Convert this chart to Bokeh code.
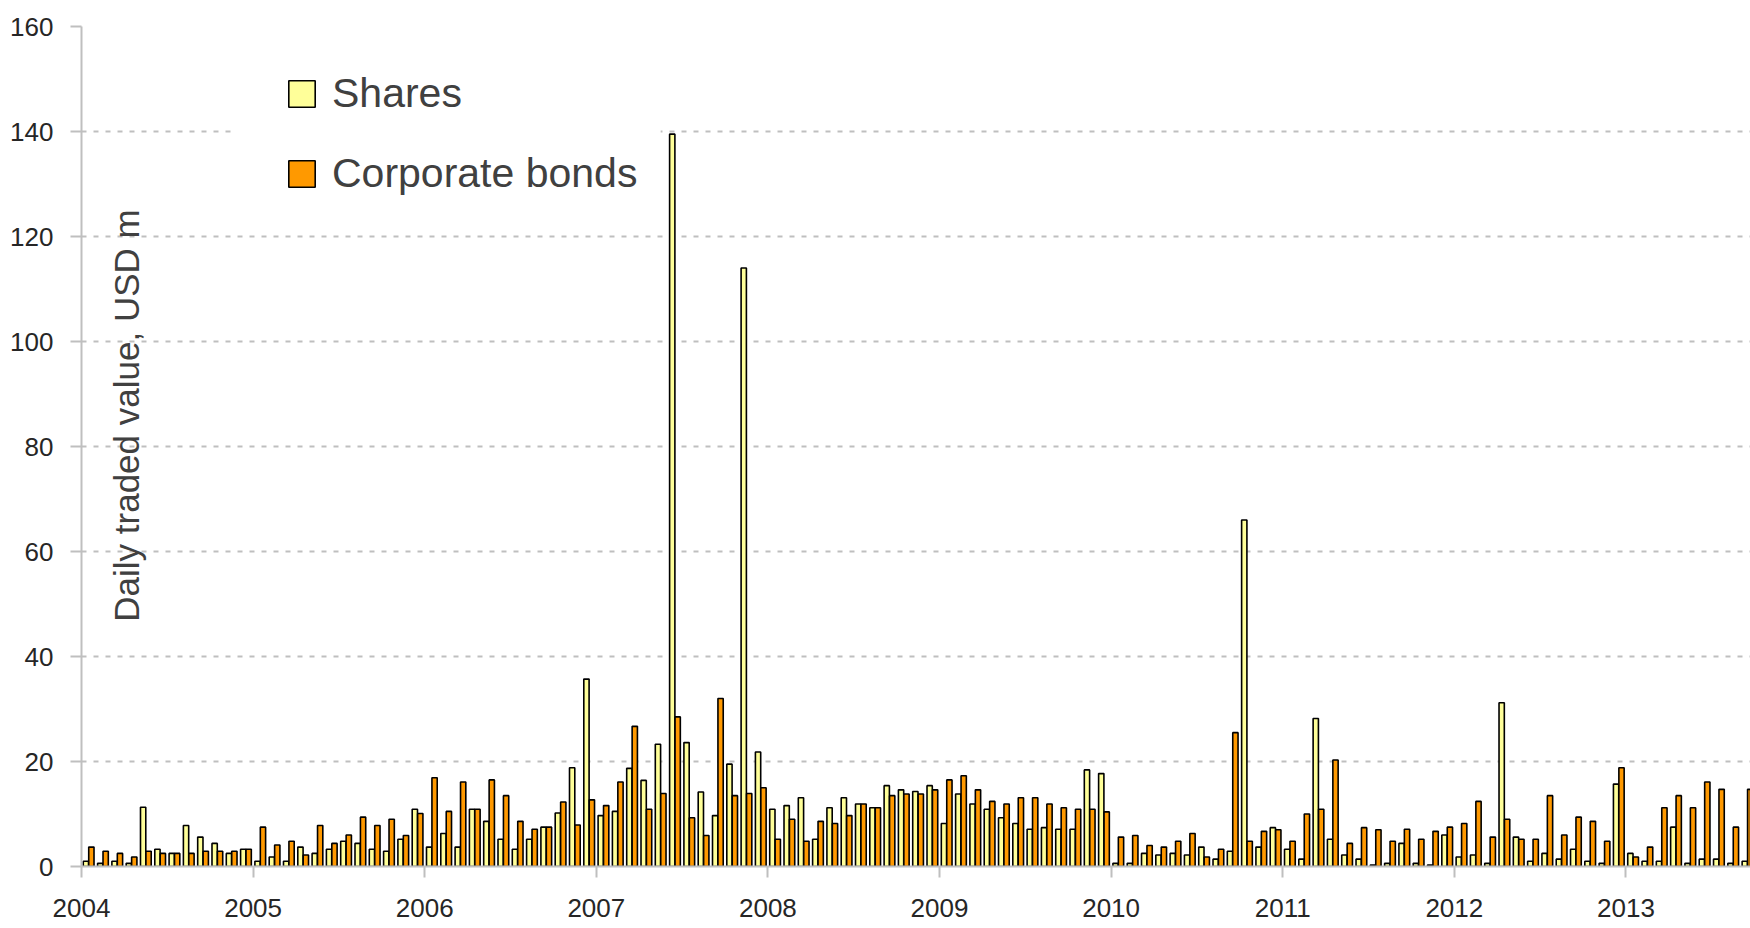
import numpy as np
from math import pi
from bokeh.plotting import figure
from bokeh.models import (ColumnDataSource, Range1d, FixedTicker, Legend,
                          LegendItem, Label, BoxAnnotation)
from bokeh.transform import dodge
from bokeh.embed import file_html
from bokeh.resources import INLINE

# ---- data (monthly, Jan 2004 - Sep 2013), daily traded value, USD m ----
years = ["2004", "2005", "2006", "2007", "2008", "2009", "2010", "2011", "2012", "2013"]

shares = [
    1.0, 0.6, 1.0, 0.6, 11.3, 3.3, 2.5, 7.8, 5.6, 4.4, 2.5, 3.3,          # 2004
    1.0, 1.8, 1.0, 3.7, 2.5, 3.3, 4.8, 4.4, 3.3, 2.9, 5.2, 10.9,          # 2005
    3.7, 6.3, 3.7, 10.9, 8.6, 5.2, 3.3, 5.2, 7.5, 10.2, 18.8, 35.7,       # 2006
    9.7, 10.5, 18.7, 16.4, 23.3, 139.5, 23.6, 14.2, 9.7, 19.5, 114.0, 21.8,  # 2007
    10.9, 11.6, 13.1, 5.2, 11.2, 13.1, 11.9, 11.2, 15.4, 14.6, 14.3, 15.4,   # 2008
    8.2, 13.8, 11.9, 10.9, 9.3, 8.2, 7.1, 7.4, 7.1, 7.1, 18.4, 17.7,      # 2009
    0.6, 0.6, 2.5, 2.2, 2.5, 2.2, 3.7, 1.4, 2.9, 66.0, 3.7, 7.4,          # 2010
    3.3, 1.4, 28.2, 5.2, 2.2, 1.4, 0.3, 0.6, 4.4, 0.6, 0.3, 6.0,          # 2011
    1.8, 2.2, 0.6, 31.2, 5.6, 1.0, 2.5, 1.4, 3.3, 1.0, 0.6, 15.7,         # 2012
    2.5, 1.0, 1.0, 7.5, 0.6, 1.4, 1.4, 0.6, 1.0,                          # 2013
]

bonds = [
    3.7, 2.9, 2.5, 1.8, 2.9, 2.5, 2.5, 2.5, 2.9, 2.9, 2.9, 3.3,           # 2004
    7.5, 4.1, 4.8, 2.2, 7.8, 4.4, 6.0, 9.4, 7.8, 9.0, 5.9, 10.1,          # 2005
    16.9, 10.5, 16.1, 10.9, 16.5, 13.5, 8.6, 7.1, 7.5, 12.3, 7.9, 12.7,   # 2006
    11.6, 16.1, 26.7, 10.9, 13.9, 28.5, 9.3, 5.9, 32.0, 13.5, 13.9, 15.0, # 2007
    5.2, 9.0, 4.8, 8.6, 8.2, 9.7, 11.9, 11.2, 13.5, 13.8, 13.8, 14.6,     # 2008
    16.5, 17.3, 14.6, 12.4, 11.9, 13.1, 13.1, 11.9, 11.2, 10.9, 10.9, 10.4,  # 2009
    5.6, 5.9, 4.0, 3.7, 4.8, 6.3, 1.8, 3.3, 25.5, 4.8, 6.7, 7.0,          # 2010
    4.8, 10.0, 10.9, 20.3, 4.4, 7.4, 7.0, 4.8, 7.1, 5.2, 6.7, 7.5,        # 2011
    8.2, 12.4, 5.6, 9.0, 5.2, 5.2, 13.5, 6.0, 9.4, 8.6, 4.8, 18.8,        # 2012
    1.8, 3.7, 11.2, 13.5, 11.2, 16.1, 14.7, 7.5, 14.7,                    # 2013
]

y_ticks = [0, 20, 40, 60, 80, 100, 120, 140, 160]

FONT = "Liberation Sans"
TXT = "#404040"
TICK_TXT = "#262626"
GRID = "#BFBFBF"

src = ColumnDataSource(dict(m=np.arange(len(shares)) + 0.5, shares=shares, bonds=bonds))

p = figure(width=1750, height=928, output_backend="svg", toolbar_location=None,
           x_range=Range1d(0, 116.71), y_range=Range1d(0, 160),
           min_border_left=81, min_border_right=0, min_border_top=26,
           min_border_bottom=62)
p.outline_line_color = None
p.background_fill_color = "white"

# white area behind the legend (breaks the 140 gridline like the reference)
p.add_layout(BoxAnnotation(left=10.56, right=40.5, bottom=124, top=155,
                           fill_color="white", fill_alpha=1.0, line_color=None,
                           level="underlay"))

r1 = p.vbar(x=dodge("m", -0.19, range=p.x_range), top="shares", width=0.37,
            source=src, fill_color="#FFFF99", line_color="black", line_width=1.6)
r2 = p.vbar(x=dodge("m", 0.19, range=p.x_range), top="bonds", width=0.37,
            source=src, fill_color="#FF9900", line_color="black", line_width=1.6)

# axes
p.xgrid.grid_line_color = None
p.ygrid.ticker = FixedTicker(ticks=y_ticks)
p.ygrid.grid_line_color = GRID
p.ygrid.grid_line_width = 2
p.ygrid.grid_line_dash = "5 7"

p.yaxis.ticker = FixedTicker(ticks=y_ticks)
p.xaxis.ticker = FixedTicker(ticks=[12 * i for i in range(len(years))])
p.xaxis.major_label_overrides = {12 * i: y for i, y in enumerate(years)}

for ax in (p.xaxis[0], p.yaxis[0]):
    ax.axis_line_color = GRID
    ax.axis_line_width = 2
    ax.major_tick_line_color = GRID
    ax.major_tick_line_width = 2
    ax.major_tick_out = 11
    ax.major_tick_in = 0
    ax.minor_tick_line_color = None
    ax.major_label_text_font = FONT
    ax.major_label_text_color = TICK_TXT
    ax.major_label_text_font_size = "26px"

p.yaxis.major_label_standoff = 17
p.xaxis.major_label_standoff = 21

# y title placed inside the plot area
p.add_layout(Label(x=3.18, y=85.9, text="Daily traded value, USD m", angle=pi / 2,
                   text_align="center", text_baseline="middle",
                   text_font=FONT, text_font_size="35px", text_color=TXT))

legend = Legend(items=[LegendItem(label="Shares", renderers=[r1]),
                       LegendItem(label="Corporate bonds", renderers=[r2])],
                location=(204, 669), orientation="vertical",
                glyph_width=33, glyph_height=33, label_standoff=14,
                label_text_font=FONT, label_text_font_size="41px",
                label_text_color=TXT, spacing=33, padding=10,
                background_fill_color="white", background_fill_alpha=1.0,
                border_line_color=None)
p.add_layout(legend)

open("out.html", "w").write(file_html(p, INLINE))
